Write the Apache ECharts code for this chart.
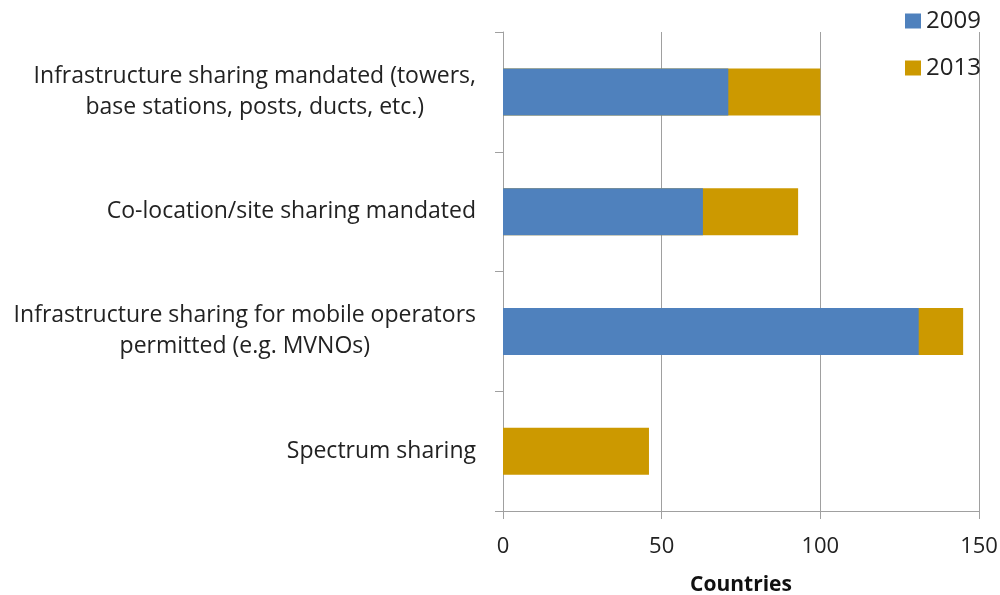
<!DOCTYPE html>
<html>
<head>
<meta charset="utf-8">
<script src="https://cdn.jsdelivr.net/npm/echarts@6/dist/echarts.min.js"></script>
<style>
    html, body { margin: 0; padding: 0; background: #fff; }
    #chart { width: 1000px; height: 595px; }
</style>
</head>
<body>
<div id="chart"></div>
<script>
    var categories = [
        "Infrastructure sharing mandated (towers,\nbase stations, posts, ducts, etc.)",
        "Co-location/site sharing mandated",
        "Infrastructure sharing for mobile operators\npermitted (e.g. MVNOs)",
        "Spectrum sharing"
    ];
    // countries per year (2013 is the total, drawn behind 2009)
    var values2009 = [71, 63, 131, 0];
    var values2013 = [100, 93, 145, 46];
    var xTicks = [0, 50, 100, 150];

    var font = "'Open Sans', sans-serif",
        axisGray = "#a0a0a0",
        blue = "#4F81BD",
        gold = "#CC9900";

    var chart = echarts.init(document.getElementById("chart"));
    chart.setOption({
        animation: false,
        textStyle: { fontFamily: font },
        legend: {
            data: [
                { name: "2009", itemStyle: { color: blue } },
                { name: "2013", itemStyle: { color: gold } }
            ],
            orient: "vertical",
            left: 900,
            top: 4,
            itemWidth: 16,
            itemHeight: 15,
            itemGap: 23,
            icon: "rect",
            textStyle: { fontSize: 24, color: "#222", fontFamily: font }
        },
        grid: {
            left: 503,
            right: 21,
            top: 32,
            bottom: 84,
            containLabel: false,
            outerBoundsMode: "none"
        },
        xAxis: {
            type: "value",
            min: xTicks[0],
            max: xTicks[xTicks.length - 1],
            interval: 50,
            name: "Countries",
            nameLocation: "middle",
            nameGap: 64,
            nameTextStyle: { fontSize: 21, fontWeight: "bold", color: "#111", fontFamily: font },
            axisLine: { show: true, lineStyle: { color: axisGray } },
            axisTick: { show: true, length: 8, lineStyle: { color: axisGray } },
            axisLabel: { fontSize: 22, color: "#222", margin: 25, fontFamily: font },
            splitLine: { show: true, lineStyle: { color: axisGray, width: 1 } }
        },
        yAxis: {
            type: "category",
            inverse: true,
            data: categories,
            axisLine: { show: true, lineStyle: { color: axisGray } },
            axisTick: { show: true, length: 8, lineStyle: { color: axisGray } },
            axisLabel: {
                margin: 27,
                align: "right",
                formatter: function (v) {
                    return v.split("\n").map(function (s) { return "{c|" + s + "}"; }).join("\n");
                },
                rich: {
                    c: {
                        fontSize: 23,
                        lineHeight: 31,
                        color: "#222",
                        align: "center",
                        fontFamily: font
                    }
                }
            }
        },
        series: [
            {
                name: "2013",
                type: "bar",
                barWidth: 47,
                barGap: "-100%",
                itemStyle: { color: gold },
                data: values2013
            },
            {
                name: "2009",
                type: "bar",
                barWidth: 47,
                barGap: "-100%",
                itemStyle: { color: blue },
                data: values2009
            }
        ]
    });
</script>
</body>
</html>
